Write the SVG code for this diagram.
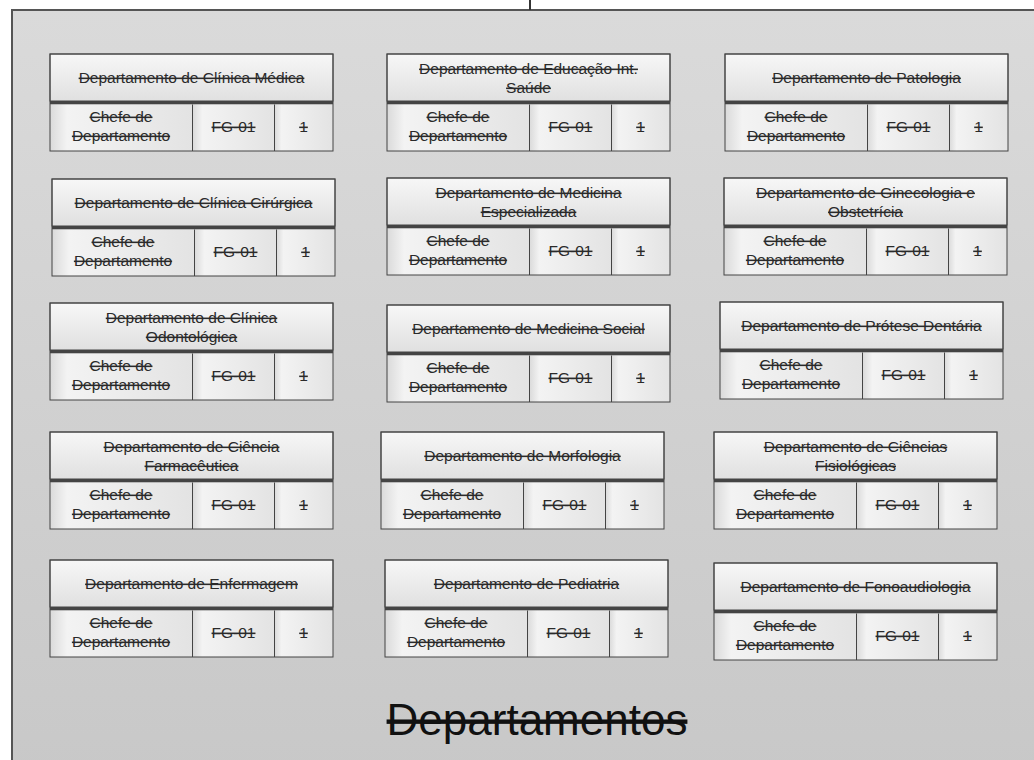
<svg xmlns="http://www.w3.org/2000/svg" width="1034" height="760" viewBox="0 0 1034 760">
<style>
  .t { font-family: "Liberation Sans", Arial, sans-serif; font-size: 15.5px; fill: #2a2a2a; text-anchor: middle; text-decoration: line-through; }
  .big { font-family: "Liberation Sans", Arial, sans-serif; font-size: 44px; fill: #111; text-anchor: middle; text-decoration: line-through; }
  .box { stroke: #444; stroke-width: 1; }
  .ttl { fill: url(#gT); }
  .cell { fill: url(#gC); }
  .sep { fill: #444; }
  .div { stroke: #444; stroke-width: 1; }
</style>
<defs>
  <linearGradient id="gBg" x1="0" y1="0" x2="0" y2="1">
    <stop offset="0" stop-color="#dadada"/>
    <stop offset="1" stop-color="#c8c8c8"/>
  </linearGradient>
  <linearGradient id="gT" x1="0" y1="0" x2="0" y2="1">
    <stop offset="0" stop-color="#f7f7f7"/>
    <stop offset="1" stop-color="#e0e0e0"/>
  </linearGradient>
  <linearGradient id="gC" x1="0" y1="0" x2="1" y2="0">
    <stop offset="0" stop-color="#dadada"/>
    <stop offset="0.12" stop-color="#f3f3f3"/>
    <stop offset="1" stop-color="#e3e3e3"/>
  </linearGradient>
  <g id="cells">
    <rect class="box ttl" x="0" y="0" width="283" height="47"/>
    <rect class="sep" x="0" y="47" width="283" height="3.5"/>
    <rect class="cell" x="0" y="50.5" width="142.5" height="46.5"/>
    <rect class="cell" x="142.5" y="50.5" width="82" height="46.5"/>
    <rect class="cell" x="224.5" y="50.5" width="58.5" height="46.5"/>
    <rect x="0" y="0" width="283" height="97" fill="none" stroke="#444" stroke-width="1"/>
    <line class="div" x1="142.5" y1="50.5" x2="142.5" y2="97"/>
    <line class="div" x1="224.5" y1="50.5" x2="224.5" y2="97"/>
    <text class="t" x="71" y="68"><tspan x="71">Chefe de</tspan><tspan x="71" dy="19">Departamento</tspan></text>
    <text class="t" x="183.5" y="78">FG-01</text>
    <text class="t" x="253.5" y="78">1</text>
  </g>
</defs>

<rect id="container" x="12" y="10" width="1040" height="770" fill="url(#gBg)" stroke="#555" stroke-width="2"/>

<g id="connectors">
  <line x1="530" y1="0" x2="530" y2="10" stroke="#333" stroke-width="2"/>
</g>

<g id="n1" transform="translate(50,54)"><use href="#cells"/><text class="t" x="141.5" y="29">Departamento de Clínica Médica</text></g>
<g id="n2" transform="translate(387,54)"><use href="#cells"/><text class="t" y="20"><tspan x="141.5">Departamento de Educação Int.</tspan><tspan x="141.5" dy="19">Saúde</tspan></text></g>
<g id="n3" transform="translate(725,54)"><use href="#cells"/><text class="t" x="141.5" y="29">Departamento de Patologia</text></g>

<g id="n4" transform="translate(52,179)"><use href="#cells"/><text class="t" x="141.5" y="29">Departamento de Clínica Cirúrgica</text></g>
<g id="n5" transform="translate(387,178)"><use href="#cells"/><text class="t" y="20"><tspan x="141.5">Departamento de Medicina</tspan><tspan x="141.5" dy="19">Especializada</tspan></text></g>
<g id="n6" transform="translate(724,178)"><use href="#cells"/><text class="t" y="20"><tspan x="141.5">Departamento de Ginecologia e</tspan><tspan x="141.5" dy="19">Obstetrícia</tspan></text></g>

<g id="n7" transform="translate(50,303)"><use href="#cells"/><text class="t" y="20"><tspan x="141.5">Departamento de Clínica</tspan><tspan x="141.5" dy="19">Odontológica</tspan></text></g>
<g id="n8" transform="translate(387,305)"><use href="#cells"/><text class="t" x="141.5" y="29">Departamento de Medicina Social</text></g>
<g id="n9" transform="translate(720,302)"><use href="#cells"/><text class="t" x="141.5" y="29">Departamento de Prótese Dentária</text></g>

<g id="n10" transform="translate(50,432)"><use href="#cells"/><text class="t" y="20"><tspan x="141.5">Departamento de Ciência</tspan><tspan x="141.5" dy="19">Farmacêutica</tspan></text></g>
<g id="n11" transform="translate(381,432)"><use href="#cells"/><text class="t" x="141.5" y="29">Departamento de Morfologia</text></g>
<g id="n12" transform="translate(714,432)"><use href="#cells"/><text class="t" y="20"><tspan x="141.5">Departamento de Ciências</tspan><tspan x="141.5" dy="19">Fisiológicas</tspan></text></g>

<g id="n13" transform="translate(50,560)"><use href="#cells"/><text class="t" x="141.5" y="29">Departamento de Enfermagem</text></g>
<g id="n14" transform="translate(385,560)"><use href="#cells"/><text class="t" x="141.5" y="29">Departamento de Pediatria</text></g>
<g id="n15" transform="translate(714,563)"><use href="#cells"/><text class="t" x="141.5" y="29">Departamento de Fonoaudiologia</text></g>

<text id="title" class="big" x="537" y="735">Departamentos</text>
</svg>
